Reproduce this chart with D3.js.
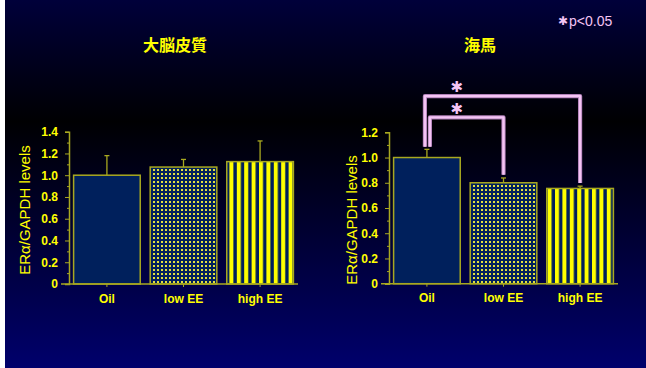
<!DOCTYPE html>
<html>
<head>
<meta charset="utf-8">
<script src="https://cdn.jsdelivr.net/npm/d3@7"></script>
<style>
  body { margin: 0; background: #fff; }
  text { font-family: "Liberation Sans", Arial, sans-serif; }
</style>
</head>
<body>
<svg id="chart" width="646" height="368"></svg>
<script>
// data
const groups = ["Oil", "low EE", "high EE"];
const cortexMean = [1.0, 1.075, 1.125];
const cortexErr = [0.18, 0.07, 0.19];
const hippoMean = [1.0, 0.80, 0.755];
const hippoErr = [0.065, 0.038, 0.018];
const cortexTicks = [0, 0.2, 0.4, 0.6, 0.8, 1.0, 1.2, 1.4];
const hippoTicks = [0, 0.2, 0.4, 0.6, 0.8, 1.0, 1.2];
const titles = ["大脳皮質", "海馬"];
const yLabel = "ERα/GAPDH levels";
// significance brackets for hippocampus: [from, to, height]
const hippoComparisons = [[0, 2, 1.487], [0, 1, 1.318]];

let yellow = "#ffff00";
let olive = "#a8a820";
let navy = "#00205c";
let pink = "#f4c4f4";

let svg = d3.select('#chart');
let defs = svg.append("defs");

let grad = defs.append("linearGradient").attr("id", "bg")
    .attr("x1", 0).attr("x2", 0).attr("y1", 0).attr("y2", 1);
grad.append("stop").attr("offset", "0").attr("stop-color", "#00003a");
grad.append("stop").attr("offset", "0.33").attr("stop-color", "#000002");
grad.append("stop").attr("offset", "1").attr("stop-color", "#00006c");

// dotted pattern (low EE)
let dots = defs.append("pattern").attr("id", "dots")
    .attr("patternUnits", "userSpaceOnUse").attr("width", 4).attr("height", 4);
dots.append("rect").attr("width", 4).attr("height", 4).attr("fill", navy);
dots.append("rect").attr("x", 1).attr("y", 1).attr("width", 2).attr("height", 2).attr("fill", "#e0e040");

// stripes pattern (high EE)
let stripes = defs.append("pattern").attr("id", "stripes")
    .attr("patternUnits", "userSpaceOnUse").attr("width", 7.4).attr("height", 10);
stripes.append("rect").attr("width", 7.4).attr("height", 10).attr("fill", navy);
stripes.append("rect").attr("x", 0).attr("width", 4).attr("height", 10).attr("fill", yellow);

let fills = [navy, "url(#dots)", "url(#stripes)"];

svg.append("rect").attr("x", 5).attr("y", 0).attr("width", 641).attr("height", 368).attr("fill", "url(#bg)");

let fmt = d => d === 0 ? "0" : d3.format(".1f")(d);

function panel(cfg) {
    let g = svg.append("g");
    let xScale = d3.scaleBand().domain(groups).range([cfg.x0, cfg.x1])
        .paddingInner(0.13).paddingOuter(0.06);
    let yScale = d3.scaleLinear().domain([0, cfg.max]).range([cfg.y0, cfg.yTop]);

    // minor ticks
    g.append("g")
        .attr("transform", "translate(" + cfg.x0 + ",0)")
        .call(d3.axisLeft(yScale).tickValues(d3.range(0.1, cfg.max, 0.2)).tickSize(2).tickFormat(""))
        .call(a => a.select(".domain").remove())
        .selectAll("line").attr("stroke", olive);

    // y axis
    let yAxis = g.append("g")
        .attr("transform", "translate(" + cfg.x0 + ",0)")
        .call(d3.axisLeft(yScale).tickValues(cfg.ticks).tickSize(4).tickPadding(7).tickFormat(fmt));
    yAxis.select(".domain").attr("stroke", olive).attr("stroke-width", 1.5);
    yAxis.selectAll("line").attr("stroke", olive);
    yAxis.selectAll("text").attr("fill", yellow).attr("font-size", 12).attr("font-weight", "bold")
        .attr("font-family", "Liberation Sans Narrow, Liberation Sans, Arial, sans-serif");

    // bars
    g.selectAll("rect.bar")
        .data(groups)
        .enter()
        .append("rect")
        .attr("class", "bar")
        .attr("x", d => xScale(d))
        .attr("width", xScale.bandwidth())
        .attr("y", (d, i) => yScale(cfg.mean[i]))
        .attr("height", (d, i) => yScale(0) - yScale(cfg.mean[i]))
        .attr("fill", (d, i) => fills[i])
        .attr("stroke", olive)
        .attr("stroke-width", 1.5);

    // error bars
    let eb = g.selectAll("g.err").data(groups).enter().append("g").attr("class", "err");
    eb.append("line")
        .attr("x1", d => xScale(d) + xScale.bandwidth() / 2)
        .attr("x2", d => xScale(d) + xScale.bandwidth() / 2)
        .attr("y1", (d, i) => yScale(cfg.mean[i]))
        .attr("y2", (d, i) => yScale(cfg.mean[i] + cfg.err[i]))
        .attr("stroke", olive).attr("stroke-width", 1.3);
    eb.append("line")
        .attr("x1", d => xScale(d) + xScale.bandwidth() / 2 - 2.5)
        .attr("x2", d => xScale(d) + xScale.bandwidth() / 2 + 2.5)
        .attr("y1", (d, i) => yScale(cfg.mean[i] + cfg.err[i]))
        .attr("y2", (d, i) => yScale(cfg.mean[i] + cfg.err[i]))
        .attr("stroke", olive).attr("stroke-width", 1.3);

    // x axis
    let xAxis = g.append("g")
        .attr("transform", "translate(0," + cfg.y0 + ")")
        .call(d3.axisBottom(xScale).tickSize(3).tickPadding(7).tickSizeOuter(0));
    xAxis.select(".domain").attr("stroke", olive).attr("stroke-width", 1.5)
        .attr("d", "M" + (cfg.x0 - 8) + ",0H" + cfg.x1);
    xAxis.selectAll("line").attr("stroke", olive);
    xAxis.selectAll("text").attr("fill", yellow).attr("font-size", 12).attr("font-weight", "bold")
        .attr("font-family", "Liberation Sans Narrow, Liberation Sans, Arial, sans-serif");

    // y label
    g.append("text")
        .attr("transform", "translate(" + cfg.labelX + "," + cfg.labelY + ") rotate(-90)")
        .attr("text-anchor", "middle")
        .attr("dy", "0.35em")
        .attr("fill", yellow)
        .attr("font-size", 15)
        .text(yLabel);

    // title
    g.append("text")
        .attr("x", cfg.titleX)
        .attr("y", 45)
        .attr("dy", "0.35em")
        .attr("text-anchor", "middle")
        .attr("fill", yellow)
        .attr("font-size", 16)
        .attr("font-weight", "bold")
        .style("font-family", "'Noto Sans CJK JP', sans-serif")
        .text(cfg.title);

    return {xScale, yScale, g};
}

panel({
    x0: 69, x1: 298, y0: 284, yTop: 131.7, max: 1.4,
    ticks: cortexTicks, mean: cortexMean, err: cortexErr,
    labelX: 25, labelY: 210, titleX: 175, title: titles[0]
});

let right = panel({
    x0: 389, x1: 618, y0: 283.7, yTop: 132.3, max: 1.2,
    ticks: hippoTicks, mean: hippoMean, err: hippoErr,
    labelX: 352, labelY: 220, titleX: 480, title: titles[1]
});

// significance brackets
let xs = right.xScale, ys = right.yScale;
let center = d => xs(groups[d]) + xs.bandwidth() / 2;
let legOffsets = [[-2, 0], [3, 0]];
hippoComparisons.forEach((c, k) => {
    let [a, b, level] = c;
    let xa = center(a) + legOffsets[k][0];
    let xb = center(b) + legOffsets[k][1];
    let ya = ys(hippoMean[a] + hippoErr[a] + 0.02);
    let yb = ys(hippoMean[b] + hippoErr[b] + 0.025);
    let yl = ys(level);
    let path = "M" + xa + "," + ya + "V" + yl + "H" + xb + "V" + yb;
    right.g.append("path").attr("d", path).attr("fill", "none")
        .attr("stroke", "#b080b8").attr("stroke-width", 4.2).attr("stroke-linejoin", "round");
    right.g.append("path").attr("d", path).attr("fill", "none")
        .attr("stroke", pink).attr("stroke-width", 2.4).attr("stroke-linejoin", "round");
    right.g.append("text")
        .attr("x", center(0) + 30)
        .attr("y", yl - 9)
        .attr("dy", "0.35em")
        .attr("text-anchor", "middle")
        .attr("fill", pink)
        .attr("font-size", 15)
        .style("font-family", "'DejaVu Sans', sans-serif")
        .text("✱");
});

// legend
let legend = svg.append("g").attr("transform", "translate(563,21)");
legend.append("text").attr("text-anchor", "middle").attr("dy", "0.35em")
    .attr("fill", pink).attr("font-size", 12).style("font-family", "'DejaVu Sans', sans-serif").text("✱");
legend.append("text").attr("x", 6).attr("dy", "0.35em")
    .attr("fill", pink).attr("font-size", 14).text("p<0.05");
</script>
</body>
</html>
